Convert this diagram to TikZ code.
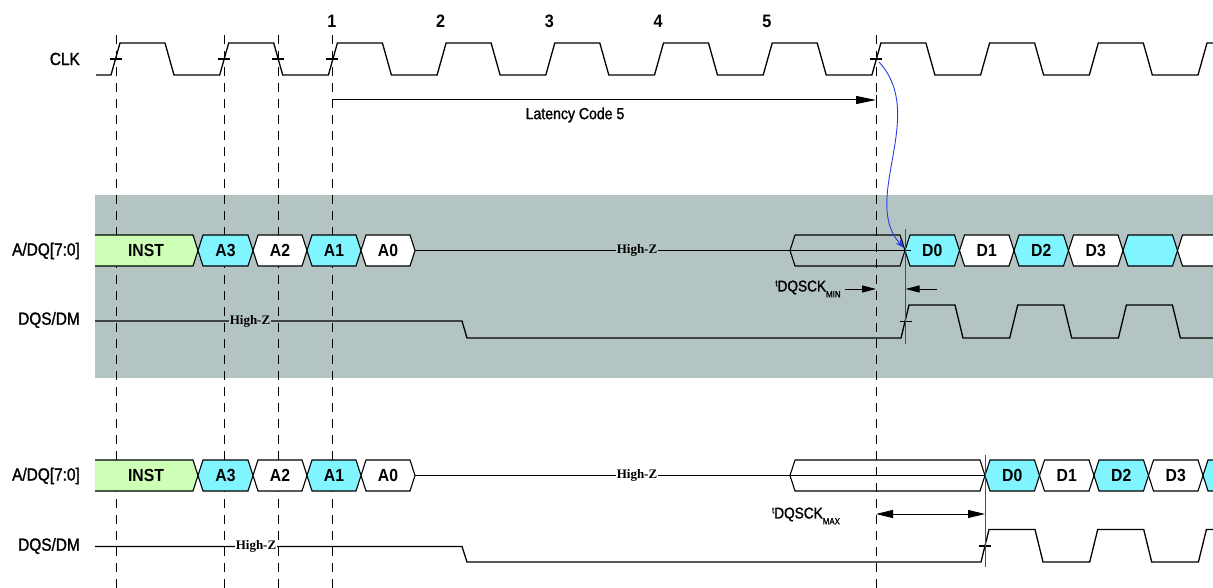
\documentclass[tikz,border=0pt]{standalone}
\usepackage{fontspec}
\setmainfont{Liberation Sans}
\newfontfamily\lab[FakeStretch=0.9]{Liberation Sans}
\newfontfamily\labm[FakeStretch=0.88,FakeBold=1.3]{Liberation Sans}
\newfontfamily\hzfont{Liberation Serif}
\usetikzlibrary{arrows.meta}
\definecolor{band}{RGB}{180,196,194}
\definecolor{instg}{RGB}{206,255,182}
\definecolor{cyn}{RGB}{128,244,255}
\definecolor{blu}{RGB}{40,60,230}
\definecolor{vgray}{RGB}{80,80,80}
\newcommand\bcell[7]{% name,x1,x2,ytop,ybot,color,label
  \filldraw[fill=#6, bus] (#2,{(#4+#5)/2}) -- ({#2+5},#4) -- ({#3-5},#4) -- (#3,{(#4+#5)/2}) -- ({#3-5},#5) -- ({#2+5},#5) -- cycle;
  \node[buslab] (#1) at ({(#2+#3)/2},{(#4+#5)/2}) {#7};}
\begin{document}
\begin{tikzpicture}[x=1pt,y=-1pt,
  wave/.style={line width=1.3pt, line join=miter},
  bus/.style={line width=1.1pt, line join=miter},
  buslab/.style={font=\lab\fontsize{17.5}{17.5}\selectfont\bfseries, inner sep=0pt},
  sig/.style={font=\labm\fontsize{17.5}{17.5}\selectfont, anchor=east, inner sep=0pt},
  num/.style={font=\lab\fontsize{18}{18}\selectfont\bfseries, inner sep=0pt},
  hz/.style={font=\hzfont\fontsize{13}{13}\selectfont\bfseries, inner sep=1pt},
  dsh/.style={line width=1pt, dash pattern=on 9pt off 7pt},
  dim/.style={line width=1pt, -{Triangle[length=14pt,width=7pt]}},
  vline/.style={vgray, line width=1pt}]
\useasboundingbox (0,0) rectangle (1213,588);
\begin{scope}
\clip (0,0) rectangle (1213,588);
% band
\fill[band] (95,195) rectangle (1213,378);
% dashed guides
\foreach \x in {116,224,278,332,876} \draw[dsh] (\x,35) -- (\x,588);
% clock
\draw[wave] (96,75) \foreach \k in {0,...,10}{ -- ({111+\k*108.7},75) -- ({120+\k*108.7},43) -- ({165+\k*108.7},43) -- ({174+\k*108.7},75) };
\foreach \x in {116,224,278,332,876} \draw[wave] ({\x-6},59) -- ({\x+6},59);
% upper DQS
\draw[wave] (95,321) -- (462,321) -- (467,338) \foreach \k in {0,...,3}{ -- ({901+\k*108.7},338) -- ({909+\k*108.7},305) -- ({955+\k*108.7},305) -- ({963+\k*108.7},338) };
\draw[wave] (900,321.5) -- (912,321.5);
\node[hz, fill=band] (hz1) at (250,321) {High-Z};
% lower DQS
\draw[wave] (95,546.5) -- (462,546.5) -- (467,562) \foreach \k in {0,...,2}{ -- ({981+\k*108.7},562) -- ({989+\k*108.7},529.5) -- ({1035+\k*108.7},529.5) -- ({1043+\k*108.7},562) };
\draw[wave] (979,546) -- (991,546);
\node[hz, fill=white] (hz2) at (256,546.5) {High-Z};
% upper bus
\fill[instg] (95,235) -- (193,235) -- (198,250.5) -- (193,266) -- (95,266) -- cycle;
\draw[bus] (95,235) -- (193,235) -- (198,250.5) -- (193,266) -- (95,266);
\node[buslab] (inst1) at (146,250.5) {INST};
\bcell{a31}{198}{253}{235}{266}{cyn}{A3}
\bcell{a21}{253}{307}{235}{266}{white}{A2}
\bcell{a11}{307}{361}{235}{266}{cyn}{A1}
\bcell{a01}{361}{415}{235}{266}{white}{A0}
\draw[bus] (790,250.5) -- (795,235) -- (900,235) -- (905,250.5) -- (900,266) -- (795,266) -- cycle;
\draw[bus] (415,250.5) -- (905,250.5);
\node[hz, fill=band] (hz3) at (637,250.5) {High-Z};
\bcell{d01}{905}{959.5}{235}{266}{cyn}{D0}
\bcell{d11}{959.5}{1014}{235}{266}{white}{D1}
\bcell{d21}{1014}{1068.5}{235}{266}{cyn}{D2}
\bcell{d31}{1068.5}{1123}{235}{266}{white}{D3}
\bcell{d41}{1123}{1177.5}{235}{266}{cyn}{}
\bcell{d51}{1177.5}{1232}{235}{266}{white}{}
\draw[bus] (905,250.5) -- (911,250.5);
% lower bus
\fill[instg] (95,460) -- (193,460) -- (198,475.5) -- (193,491) -- (95,491) -- cycle;
\draw[bus] (95,460) -- (193,460) -- (198,475.5) -- (193,491) -- (95,491);
\node[buslab] (inst2) at (146,475.5) {INST};
\bcell{a32}{198}{253}{460}{491}{cyn}{A3}
\bcell{a22}{253}{307}{460}{491}{white}{A2}
\bcell{a12}{307}{361}{460}{491}{cyn}{A1}
\bcell{a02}{361}{415}{460}{491}{white}{A0}
\draw[bus] (790,475.5) -- (795,460) -- (980,460) -- (985,475.5) -- (980,491) -- (795,491) -- cycle;
\draw[bus] (415,475.5) -- (985,475.5);
\node[hz, fill=white] (hz4) at (637,475.5) {High-Z};
\bcell{d02}{985}{1039.5}{460}{491}{cyn}{D0}
\bcell{d12}{1039.5}{1094}{460}{491}{white}{D1}
\bcell{d22}{1094}{1148.5}{460}{491}{cyn}{D2}
\bcell{d32}{1148.5}{1203}{460}{491}{white}{D3}
\bcell{d42}{1203}{1257.5}{460}{491}{cyn}{}
\end{scope}
% vertical reference lines
\draw[vline] (905.5,229) -- (905.5,344);
\draw[vline] (985,455) -- (985,567);
% signal names
\node[sig] (clk) at (80,59) {CLK};
\node[sig] (adq1) at (80,251) {A/DQ[7:0]};
\node[sig] (dqs1) at (80,320) {DQS/DM};
\node[sig] (adq2) at (80,476) {A/DQ[7:0]};
\node[sig] (dqs2) at (80,546) {DQS/DM};
% cycle numbers
\foreach \n in {1,...,5} \node[num] (n\n) at ({332+(\n-1)*108.7},21) {\n};
% latency
\coordinate (l0) at (332,100);
\coordinate (l1) at (876,100);
\draw[line width=1pt, -{Triangle[length=20pt,width=8pt]}] (l0) -- (l1);
\draw[line width=1pt] (876,95) -- (876,105);
\node[font=\labm\fontsize{16}{16}\selectfont, inner sep=0pt] (lat) at (575,115) {Latency Code 5};
% blue arrow
\coordinate (ck) at (879,62);
\coordinate (dq) at (904,248);
\draw[blu, line width=0.9pt, -{Stealth[length=9pt,width=6pt]}] (ck) .. controls (928,115) and (860,200) .. (dq);
% tDQSCK min
\node[font=\labm\fontsize{15.5}{15.5}\selectfont, inner sep=0pt] (tmin) at (808,289) {\raisebox{5pt}{\fontsize{9}{9}\selectfont t}DQSCK\raisebox{-6pt}{\fontsize{9}{9}\selectfont MIN}};
\coordinate (m0) at (845,289);
\coordinate (m1) at (876,289);
\coordinate (m2) at (937,289);
\coordinate (m3) at (905.5,289);
\draw[dim] (m0) -- (m1);
\draw[dim] (m2) -- (m3);
% tDQSCK max
\node[font=\labm\fontsize{15.5}{15.5}\selectfont, inner sep=0pt] (tmax) at (806,516) {\raisebox{5pt}{\fontsize{9}{9}\selectfont t}DQSCK\raisebox{-6pt}{\fontsize{9}{9}\selectfont MAX}};
\coordinate (x0) at (876,514);
\coordinate (x1) at (985,514);
\draw[line width=1pt, {Triangle[length=17pt,width=8pt]}-{Triangle[length=17pt,width=8pt]}] (x0) -- (x1);
\end{tikzpicture}
\end{document}
